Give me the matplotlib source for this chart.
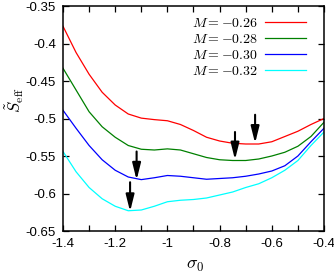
import numpy as np
import matplotlib
matplotlib.use("Agg")
import matplotlib.pyplot as plt

plt.rcParams['font.family'] = ['Liberation Sans', 'DejaVu Sans']
plt.rcParams['mathtext.fontset'] = 'cm'
plt.rcParams['axes.unicode_minus'] = False

# sigma_0 grid
sigma = [-1.40, -1.35, -1.30, -1.25, -1.20, -1.15, -1.10, -1.05, -1.00, -0.95, -0.90,
         -0.85, -0.80, -0.75, -0.70, -0.65, -0.60, -0.55, -0.50, -0.45, -0.40]

s_026 = [-0.377, -0.412, -0.441, -0.465, -0.482, -0.494, -0.4995, -0.5015, -0.503, -0.508, -0.516,
         -0.525, -0.530, -0.533, -0.534, -0.534, -0.531, -0.524, -0.517, -0.508, -0.500]
s_028 = [-0.433, -0.462, -0.491, -0.511, -0.525, -0.536, -0.541, -0.542, -0.5405, -0.542, -0.547,
         -0.552, -0.555, -0.556, -0.556, -0.554, -0.550, -0.545, -0.537, -0.524, -0.505]
s_030 = [-0.489, -0.513, -0.536, -0.555, -0.569, -0.578, -0.5815, -0.579, -0.576, -0.577, -0.579,
         -0.581, -0.580, -0.579, -0.577, -0.574, -0.570, -0.563, -0.550, -0.531, -0.513]
s_032 = [-0.544, -0.571, -0.592, -0.607, -0.617, -0.623, -0.622, -0.617, -0.611, -0.609, -0.608,
         -0.606, -0.602, -0.598, -0.592, -0.587, -0.579, -0.569, -0.556, -0.536, -0.518]

labels = [r'$M=-0.26$', r'$M=-0.28$', r'$M=-0.30$', r'$M=-0.32$']
colors = ['#ff0000', '#008000', '#0000ff', '#00ffff']

# arrows marking the minima
arrow_x = [-0.664, -0.741, -1.118, -1.143]
arrow_top = [-0.495, -0.518, -0.544, -0.585]
arrow_tip = [-0.533, -0.555, -0.582, -0.624]

fig = plt.figure(figsize=(3.34, 2.73), dpi=100)
ax = fig.add_axes([63/334, 42/273, 261/334, 225/273])

for ys, lab, c in zip([s_026, s_028, s_030, s_032], labels, colors):
    ax.plot(sigma, ys, color=c, lw=0.9, label=lab)

for x, y0, y1 in zip(arrow_x, arrow_top, arrow_tip):
    ax.annotate('', xy=(x, y1), xytext=(x, y0),
                arrowprops=dict(arrowstyle='-|>,head_length=1.0,head_width=0.25',
                                color='k', lw=1.5, mutation_scale=10,
                                shrinkA=0, shrinkB=0))

ax.set_xlim(-1.4, -0.4)
ax.set_ylim(-0.65, -0.35)
ax.set_xticks(np.arange(-1.4, -0.39, 0.1))
ax.set_xticklabels(['-1.4', '', '-1.2', '', '-1', '', '-0.8', '', '-0.6', '', '-0.4'])
ax.set_yticks(np.arange(-0.65, -0.349, 0.05))
ax.set_yticklabels(['-0.65', '-0.6', '-0.55', '-0.5', '-0.45', '-0.4', '-0.35'])
ax.tick_params(direction='in', length=4, width=0.9, top=True, right=True,
               labelsize=9.5, pad=5)
for sp in ax.spines.values():
    sp.set_linewidth(1.1)

ax.set_xlabel(r'$\sigma_0$', fontsize=13)
ax.xaxis.set_label_coords(0.506, -0.115)
ax.set_ylabel(r'$\tilde{S}_{\rm eff}$', fontsize=12)
ax.yaxis.set_label_coords(-0.14, 0.58)

ax.legend(loc='upper right', frameon=False, markerfirst=False, fontsize=10,
          handlelength=3.0, handletextpad=0.5, labelspacing=0.15,
          borderaxespad=0.3, bbox_to_anchor=(0.97, 1.0))

fig.savefig('out.png', dpi=100)
